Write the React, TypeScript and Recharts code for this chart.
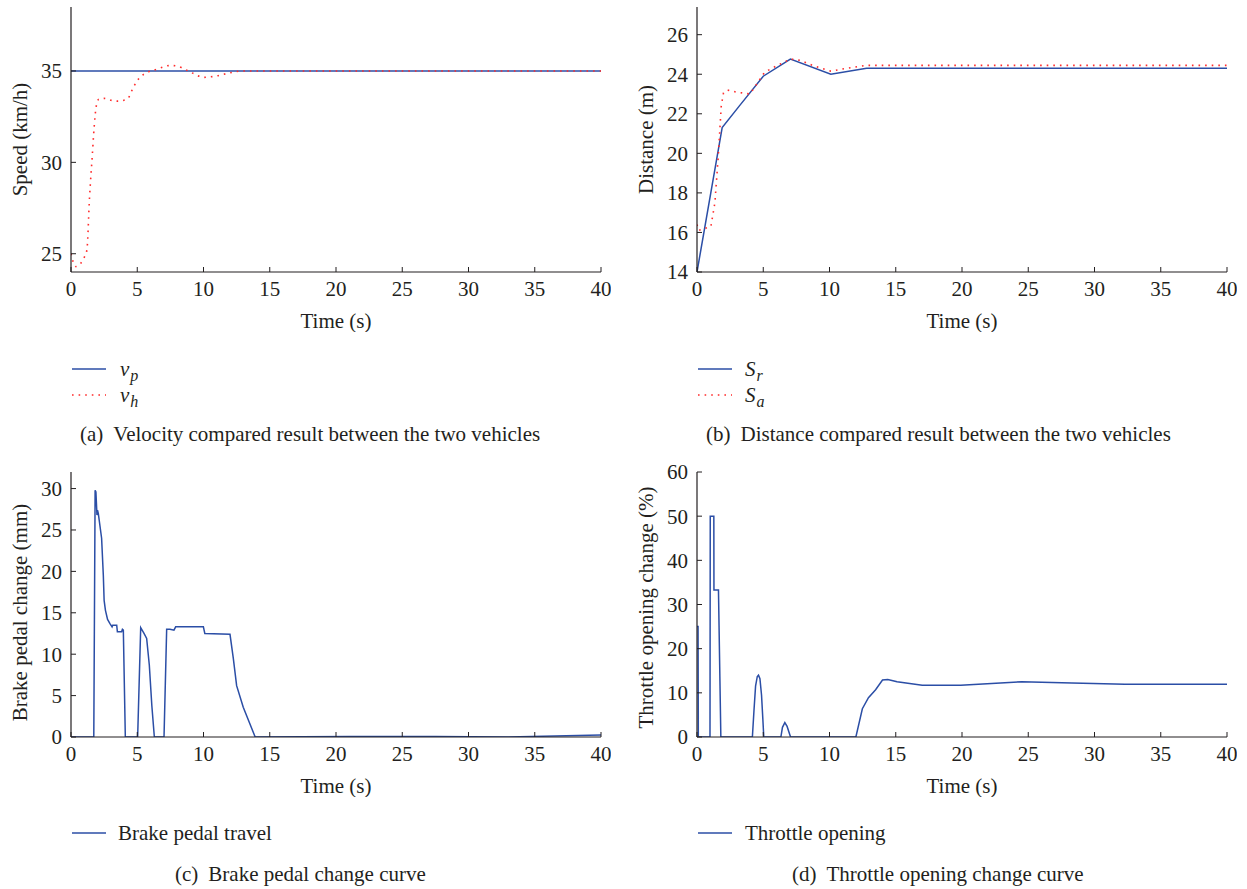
import React from 'react';
import { LineChart, Line, XAxis, YAxis, Label } from 'recharts';

const FONT = '"Liberation Serif", "Times New Roman", serif';
const BLUE = '#2b4ea6';
const RED = '#ff2b2b';
const INK = '#231f20';
const FS = 21;

// ---- shared axis ticks ----
const timeTicks = [0, 5, 10, 15, 20, 25, 30, 35, 40];

// ---- panel (a) velocity ----
const vpTime = [0, 40];
const vpValues = [35, 35];
const vhTime = [0, 0.35, 1.0, 1.2, 1.4, 1.6, 1.75, 1.9, 2.1, 2.5, 3.0, 3.5, 4.0, 4.3, 4.7, 5.2, 5.7, 6.5, 7.5, 8.0, 8.7, 9.3, 10.0, 11.0, 12.0, 13.0, 40];
const vhValues = [25.0, 24.3, 24.8, 25.2, 28.1, 30.3, 31.95, 33.05, 33.45, 33.5, 33.4, 33.35, 33.4, 33.5, 34.1, 34.65, 34.9, 35.1, 35.3, 35.27, 35.05, 34.84, 34.65, 34.73, 34.9, 35.0, 35.0];
const speedTicks = [25, 30, 35];

// ---- panel (b) distance ----
const srTime = [0, 1.9, 3.2, 5.0, 7.05, 10.1, 12.8, 40];
const srValues = [14.0, 21.3, 22.4, 23.9, 24.77, 24.0, 24.3, 24.3];
const saTime = [0, 0.13, 1.05, 1.35, 1.6, 1.83, 2.0, 2.3, 2.95, 4.0, 4.45, 5.1, 5.65, 7.05, 7.8, 8.9, 10.1, 11.3, 12.8, 40];
const saValues = [16.4, 16.1, 16.3, 17.5, 19.8, 22.4, 23.05, 23.2, 23.1, 23.0, 23.45, 24.1, 24.3, 24.77, 24.7, 24.4, 24.16, 24.3, 24.45, 24.45];
const distanceTicks = [14, 16, 18, 20, 22, 24, 26];

// ---- panel (c) brake pedal ----
const brakeTime = [0, 1.72, 1.82, 1.88, 1.96, 2.0, 2.06, 2.31, 2.44, 2.5, 2.6, 2.76, 2.94, 3.1, 3.15, 3.45, 3.5, 3.82, 3.88, 3.95, 4.1, 5.03, 5.26, 5.51, 5.71, 5.91, 6.1, 6.29, 7.02, 7.22, 7.47, 7.77, 7.9, 9.99, 10.1, 12.0, 12.25, 12.5, 13.0, 13.9, 21.0, 27.5, 33.0, 40];
const brakeValues = [0, 0, 29.8, 29.6, 26.8, 27.4, 27.0, 24.0, 19.5, 16.5, 15.3, 14.2, 13.7, 13.3, 13.5, 13.5, 12.7, 12.7, 13.0, 12.9, 0, 0, 13.2, 12.5, 11.9, 8.7, 3.8, 0, 0, 13.0, 13.0, 12.9, 13.3, 13.3, 12.5, 12.4, 9.5, 6.2, 3.6, 0, 0.05, 0.05, 0, 0.25];
const brakeTicks = [0, 5, 10, 15, 20, 25, 30];

// ---- panel (d) throttle ----
const throttleTime = [0, 0.08, 0.1, 0.98, 1.0, 1.27, 1.28, 1.62, 1.8, 4.18, 4.3, 4.42, 4.55, 4.64, 4.75, 4.87, 4.97, 5.04, 6.33, 6.45, 6.63, 6.8, 7.06, 11.99, 12.48, 12.94, 13.48, 14.0, 14.4, 15.1, 17.0, 19.9, 22.9, 24.5, 28.3, 32.3, 40];
const throttleValues = [25, 25, 0, 0, 50, 50, 33.3, 33.3, 0, 0, 6, 11.5, 13.7, 14, 13.2, 9.5, 4, 0, 0, 2.2, 3.25, 2.4, 0, 0, 6.4, 8.9, 10.7, 12.9, 13.0, 12.5, 11.7, 11.7, 12.25, 12.5, 12.25, 11.95, 11.95];
const throttleTicks = [0, 10, 20, 30, 40, 50, 60];

const zip = (ts: number[], vs: number[]) => ts.map((t, i) => ({ t, v: vs[i] }));

const PLOT_W = 530;
const PLOT_H = 265;
const Y_AXIS_W = 71;
const X_AXIS_H = 60;
const RIGHT_M = 10;

type Series = { data: { t: number; v: number }[]; color: string; dotted?: boolean; curve?: 'linear' | 'monotone' };

const tickStyle = { fontFamily: FONT, fontSize: FS, fill: INK };

function Panel(props: {
  left: number;
  top: number;
  topMargin: number;
  yDomain: [number, number];
  yTicks: number[];
  yTitle: string;
  yTitleShift?: number;
  series: Series[];
}) {
  const { left, top, topMargin, yDomain, yTicks, yTitle, series } = props;
  const shift = props.yTitleShift || 0;
  const width = Y_AXIS_W + PLOT_W + RIGHT_M;
  const height = topMargin + PLOT_H + X_AXIS_H;
  const yTitleContent = (p: any) => {
    const vb = p.viewBox || {};
    const cx = (vb.x ?? 0) + 20;
    const cy = (vb.y ?? topMargin) + (vb.height ?? PLOT_H) / 2 + shift;
    return (
      <text x={cx} y={cy} transform={`rotate(-90 ${cx} ${cy})`} textAnchor="middle" dominantBaseline="central" style={{ fontFamily: FONT, fontSize: FS, fill: INK }}>
        {yTitle}
      </text>
    );
  };
  const xTitleContent = (p: any) => {
    const vb = p.viewBox || {};
    const cx = (vb.x ?? Y_AXIS_W) + (vb.width ?? PLOT_W) / 2;
    const cy = (vb.y ?? topMargin + PLOT_H) + 49;
    return (
      <text x={cx} y={cy} textAnchor="middle" dominantBaseline="central" style={{ fontFamily: FONT, fontSize: FS, fill: INK }}>
        Time (s)
      </text>
    );
  };
  return (
    <div style={{ position: 'absolute', left, top }}>
      <LineChart width={width} height={height} margin={{ top: topMargin, right: RIGHT_M, bottom: 0, left: 0 }} style={{ overflow: 'visible' }}>
        <XAxis
          xAxisId={0}
          dataKey="t"
          type="number"
          domain={[0, 40]}
          ticks={timeTicks}
          interval={0}
          allowDataOverflow
          height={X_AXIS_H}
          tickSize={-5}
          tickMargin={14}
          tick={tickStyle}
          stroke={INK}
          axisLine={{ stroke: INK, strokeWidth: 1.2 }}
          tickLine={{ stroke: INK }}
        >
          <Label content={xTitleContent} />
        </XAxis>
        <XAxis
          xAxisId="top"
          orientation="top"
          dataKey="t"
          type="number"
          domain={[0, 40]}
          ticks={timeTicks}
          interval={0}
          allowDataOverflow
          height={0}
          tickSize={-5}
          tick={false}
          axisLine={{ stroke: INK, strokeWidth: 1.2 }}
          tickLine={{ stroke: INK }}
        />
        <YAxis
          yAxisId={0}
          type="number"
          domain={yDomain}
          ticks={yTicks}
          interval={0}
          allowDataOverflow
          width={Y_AXIS_W}
          tickSize={-5}
          tickMargin={14}
          tick={tickStyle}
          axisLine={{ stroke: INK, strokeWidth: 1.2 }}
          tickLine={{ stroke: INK }}
        >
          <Label content={yTitleContent} />
        </YAxis>
        <YAxis
          yAxisId="right"
          orientation="right"
          type="number"
          domain={yDomain}
          ticks={yTicks}
          interval={0}
          allowDataOverflow
          width={0}
          tickSize={-5}
          tick={false}
          axisLine={{ stroke: INK, strokeWidth: 1.2 }}
          tickLine={{ stroke: INK }}
        />
        {series.map((s, i) => (
          <Line
            key={i}
            data={s.data}
            dataKey="v"
            xAxisId={0}
            yAxisId={0}
            type={s.curve || 'linear'}
            stroke={s.color}
            strokeWidth={s.dotted ? 1.6 : 1.5}
            strokeDasharray={s.dotted ? '1.6 5' : undefined}
            dot={false}
            activeDot={false}
            isAnimationActive={false}
          />
        ))}
      </LineChart>
    </div>
  );
}

function LegendRow(props: { x: number; y: number; textX: number; dotted?: boolean; children: React.ReactNode }) {
  const { x, y, textX, dotted, children } = props;
  return (
    <>
      <svg style={{ position: 'absolute', left: x, top: y - 5 }} width={34} height={10}>
        <line x1={0} y1={5} x2={34} y2={5} stroke={dotted ? RED : BLUE} strokeWidth={dotted ? 1.6 : 1.5} strokeDasharray={dotted ? '1.6 5' : undefined} />
      </svg>
      <div style={{ position: 'absolute', left: textX, top: y - 14, height: 28, lineHeight: '28px', fontFamily: FONT, fontSize: FS, color: INK, whiteSpace: 'nowrap' }}>
        {children}
      </div>
    </>
  );
}

function Sym(props: { base: string; sub: string }) {
  return (
    <span style={{ fontStyle: 'italic' }}>
      {props.base}
      <span style={{ fontSize: 16, position: 'relative', top: 5, marginLeft: 1 }}>{props.sub}</span>
    </span>
  );
}

function Caption(props: { x: number; y: number; tag: string; text: string }) {
  return (
    <div style={{ position: 'absolute', left: props.x, top: props.y - 14, height: 28, lineHeight: '28px', fontFamily: FONT, fontSize: FS, color: INK, whiteSpace: 'nowrap' }}>
      {props.tag}
      <span style={{ marginLeft: 10 }}>{props.text}</span>
    </div>
  );
}

export default function App() {
  return (
    <div style={{ position: 'absolute', left: 0, top: 0, width: 1247, height: 889, background: '#fff', overflow: 'hidden' }}>
      <Panel
        left={0}
        top={0}
        topMargin={7}
        yDomain={[24, 38.5]}
        yTicks={speedTicks}
        yTitle="Speed (km/h)"
        series={[
          { data: zip(vpTime, vpValues), color: BLUE },
          { data: zip(vhTime, vhValues), color: RED, dotted: true, curve: 'monotone' },
        ]}
      />
      <Panel
        left={626}
        top={0}
        topMargin={7}
        yDomain={[14, 27.4]}
        yTicks={distanceTicks}
        yTitle="Distance (m)"
        series={[
          { data: zip(srTime, srValues), color: BLUE },
          { data: zip(saTime, saValues), color: RED, dotted: true },
        ]}
      />
      <Panel
        left={0}
        top={452}
        topMargin={20}
        yDomain={[0, 32]}
        yTicks={brakeTicks}
        yTitle="Brake pedal change (mm)"
        yTitleShift={8}
        series={[{ data: zip(brakeTime, brakeValues), color: BLUE }]}
      />
      <Panel
        left={626}
        top={452}
        topMargin={20}
        yDomain={[0, 60]}
        yTicks={throttleTicks}
        yTitle="Throttle opening change (%)"
        yTitleShift={3}
        series={[{ data: zip(throttleTime, throttleValues), color: BLUE }]}
      />

      <LegendRow x={72} y={369} textX={120}>
        <Sym base="v" sub="p" />
      </LegendRow>
      <LegendRow x={72} y={395} textX={120} dotted>
        <Sym base="v" sub="h" />
      </LegendRow>
      <LegendRow x={698} y={369} textX={745}>
        <Sym base="S" sub="r" />
      </LegendRow>
      <LegendRow x={698} y={395} textX={745} dotted>
        <Sym base="S" sub="a" />
      </LegendRow>
      <LegendRow x={72} y={833} textX={118}>
        Brake pedal travel
      </LegendRow>
      <LegendRow x={698} y={833} textX={745}>
        Throttle opening
      </LegendRow>

      <Caption x={80} y={434} tag="(a)" text="Velocity compared result between the two vehicles" />
      <Caption x={706} y={434} tag="(b)" text="Distance compared result between the two vehicles" />
      <Caption x={175} y={874} tag="(c)" text="Brake pedal change curve" />
      <Caption x={792} y={874} tag="(d)" text="Throttle opening change curve" />
    </div>
  );
}
